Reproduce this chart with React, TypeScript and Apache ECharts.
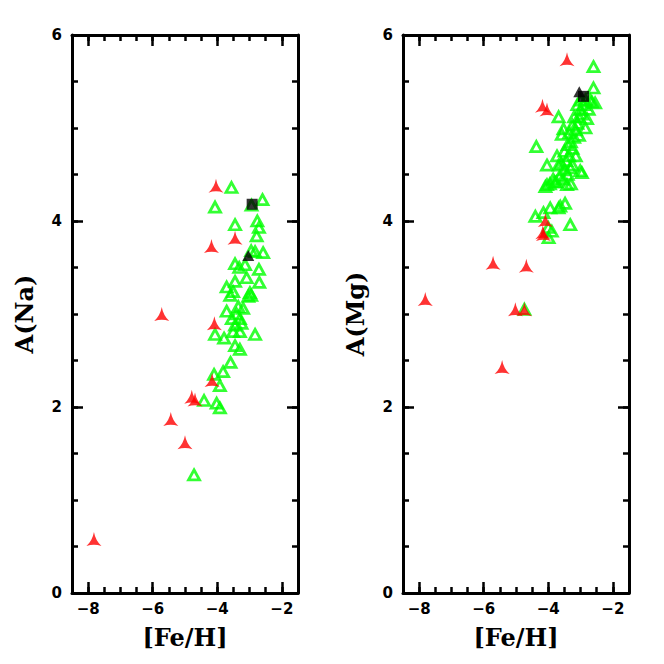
import React, { useEffect, useRef } from "react";
import * as echarts from "echarts";

// ---- data ----
const naRed: [number, number][] = [
  [-4.04, 4.38], [-3.45, 3.82], [-4.18, 3.73], [-4.09, 2.9], [-4.16, 2.29],
  [-4.79, 2.11], [-4.69, 2.08], [-5.72, 3.0], [-5.44, 1.87], [-5.0, 1.62], [-7.82, 0.58],
];
const naGreen: [number, number][] = [
  [-3.56, 4.36], [-4.07, 4.15], [-2.6, 4.23], [-2.94, 4.17], [-3.45, 3.96], [-2.76, 4.0],
  [-2.71, 3.93], [-2.78, 3.84], [-2.83, 3.67], [-2.58, 3.66], [-2.95, 3.68], [-3.45, 3.54],
  [-3.14, 3.53], [-3.32, 3.5], [-2.71, 3.48], [-3.09, 3.39], [-3.45, 3.35], [-2.7, 3.34],
  [-3.71, 3.29], [-3.51, 3.24], [-2.99, 3.23], [-3.04, 3.19], [-2.95, 3.2], [-3.6, 3.2],
  [-3.35, 3.08], [-3.71, 3.03], [-3.2, 3.06], [-3.4, 3.0], [-3.3, 2.95], [-3.55, 2.95],
  [-3.25, 2.9], [-3.45, 2.88], [-4.07, 2.78], [-3.79, 2.74], [-3.51, 2.81], [-3.3, 2.81],
  [-2.83, 2.78], [-3.45, 2.66], [-3.3, 2.62], [-3.59, 2.48], [-3.82, 2.38], [-4.1, 2.35],
  [-3.92, 2.23], [-4.41, 2.07], [-4.02, 2.04], [-3.92, 1.99], [-4.72, 1.27],
];
const naBlackTri: [number, number][] = [[-3.04, 3.63]];
const naBlackSq: [number, number][] = [[-2.92, 4.18]];

const mgRed: [number, number][] = [
  [-3.42, 5.74], [-4.18, 5.24], [-4.04, 5.2], [-4.09, 4.01], [-4.17, 3.88], [-4.15, 3.86],
  [-5.71, 3.55], [-4.68, 3.52], [-7.81, 3.16], [-5.02, 3.05], [-4.74, 3.05], [-5.43, 2.43],
];
const mgGreen: [number, number][] = [
  [-2.6, 5.66], [-2.6, 5.43], [-2.55, 5.27], [-3.68, 5.12], [-4.37, 4.8], [-3.53, 4.99],
  [-3.58, 4.93], [-4.04, 4.6], [-3.73, 4.7], [-3.68, 4.6], [-3.01, 4.54], [-3.32, 4.57],
  [-2.96, 4.52], [-4.09, 4.37], [-3.42, 4.39], [-3.3, 4.4], [-4.04, 4.39], [-3.8, 4.42],
  [-4.4, 4.05], [-3.94, 4.14], [-3.48, 4.19], [-3.63, 4.16], [-3.68, 4.14], [-4.15, 4.09],
  [-3.32, 3.96], [-3.99, 3.82], [-3.89, 3.89], [-4.0, 3.93], [-4.74, 3.05],
  [-3.95, 4.4], [-3.85, 4.45], [-3.75, 4.42], [-3.65, 4.48], [-3.55, 4.45], [-3.5, 4.55],
  [-3.4, 4.5], [-3.6, 4.62], [-3.45, 4.65], [-3.35, 4.7], [-3.5, 4.75], [-3.4, 4.82],
  [-3.3, 4.85], [-3.25, 4.78], [-3.2, 4.9], [-3.35, 4.95], [-3.15, 4.98], [-3.25, 5.03],
  [-3.1, 5.05], [-3.05, 5.12], [-3.2, 5.12], [-2.95, 5.15], [-3.0, 5.2], [-2.9, 5.25],
  [-3.1, 5.25], [-2.85, 5.3], [-2.8, 5.1], [-2.75, 5.2], [-2.85, 5.0], [-3.05, 4.92],
  [-3.15, 4.7], [-3.25, 4.6], [-2.7, 5.3], [-2.65, 5.28], [-3.0, 5.3],
];
const mgBlackTri: [number, number][] = [[-3.04, 5.39]];
const mgBlackSq: [number, number][] = [[-2.91, 5.34]];

const xMajor = [-8, -6, -4, -2];
const xMinor = [-8, -7.5, -7, -6.5, -6, -5.5, -5, -4.5, -4, -3.5, -3, -2.5, -2];
const yMajor = [0, 2, 4, 6];
const yMinor = [0.5, 1, 1.5, 2, 2.5, 3, 3.5, 4, 4.5, 5, 5.5];
const panelNames = ["A(Na)", "A(Mg)"];
const xName = "[Fe/H]";

const TRIPOD = "path://M0,-10 Q1.7,-1 8.7,5 Q0,2.2 -8.7,5 Q-1.7,-1 0,-10 Z";

function fmt(v: number) {
  return v < 0 ? "\u2212" + Math.abs(v) : String(v);
}

const labelFont = {
  fontFamily: "DejaVu Sans",
  fontWeight: "bold" as const,
  fontSize: 15,
  color: "#000",
};
const nameFont = {
  fontFamily: "DejaVu Serif",
  fontWeight: "bold" as const,
  fontSize: 24,
  color: "#000",
};
const tickStyle = { color: "#000", width: 2.5 };

function xAxes(g: number) {
  const base = { gridIndex: g, type: "value", min: -8.5, max: -1.5, splitLine: { show: false } };
  return [
    {
      ...base,
      position: "bottom",
      name: xName,
      nameLocation: "middle",
      nameGap: 32,
      nameTextStyle: nameFont,
      axisLine: { show: true, onZero: false, lineStyle: { color: "#000", width: 3 } },
      axisTick: { show: true, inside: true, length: 11, lineStyle: tickStyle, customValues: xMajor },
      axisLabel: { show: true, customValues: xMajor, formatter: fmt, margin: 8, ...labelFont },
    },
    {
      ...base,
      position: "bottom",
      axisLine: { show: false, onZero: false },
      axisTick: { show: true, inside: true, length: 6, lineStyle: tickStyle, customValues: xMinor },
      axisLabel: { show: false },
    },
    {
      ...base,
      position: "top",
      axisLine: { show: true, onZero: false, lineStyle: { color: "#000", width: 3 } },
      axisTick: { show: true, inside: true, length: 11, lineStyle: tickStyle, customValues: xMajor },
      axisLabel: { show: false },
    },
    {
      ...base,
      position: "top",
      axisLine: { show: false, onZero: false },
      axisTick: { show: true, inside: true, length: 6, lineStyle: tickStyle, customValues: xMinor },
      axisLabel: { show: false },
    },
  ];
}

function yAxes(g: number) {
  const base = { gridIndex: g, type: "value", min: 0, max: 6, splitLine: { show: false } };
  return [
    {
      ...base,
      position: "left",
      name: panelNames[g],
      nameLocation: "middle",
      nameGap: 36,
      nameTextStyle: nameFont,
      axisLine: { show: true, onZero: false, lineStyle: { color: "#000", width: 3 } },
      axisTick: { show: true, inside: true, length: 11, lineStyle: tickStyle, customValues: yMajor },
      axisLabel: { show: true, customValues: yMajor, margin: 10, ...labelFont },
    },
    {
      ...base,
      position: "left",
      axisLine: { show: false, onZero: false },
      axisTick: { show: true, inside: true, length: 6, lineStyle: tickStyle, customValues: yMinor },
      axisLabel: { show: false },
    },
    {
      ...base,
      position: "right",
      axisLine: { show: true, onZero: false, lineStyle: { color: "#000", width: 3 } },
      axisTick: { show: true, inside: true, length: 11, lineStyle: tickStyle, customValues: yMajor },
      axisLabel: { show: false },
    },
    {
      ...base,
      position: "right",
      axisLine: { show: false, onZero: false },
      axisTick: { show: true, inside: true, length: 6, lineStyle: tickStyle, customValues: yMinor },
      axisLabel: { show: false },
    },
  ];
}

function panelSeries(g: number, green: any[], red: any[], tri: any[], sq: any[]) {
  const ax = { xAxisIndex: g * 4, yAxisIndex: g * 4 };
  return [
    {
      type: "scatter", ...ax, data: green, symbol: "triangle", symbolSize: [11, 10],
      itemStyle: { color: "rgba(0,0,0,0)", borderColor: "#00ff00", borderWidth: 2.8 }, z: 2,
    },
    {
      type: "scatter", ...ax, data: red, symbol: TRIPOD, symbolSize: [15, 14],
      itemStyle: { color: "#ff0000" }, z: 3,
    },
    {
      type: "scatter", ...ax, data: tri, symbol: "triangle", symbolSize: [12, 11],
      itemStyle: { color: "#000" }, z: 4,
    },
    {
      type: "scatter", ...ax, data: sq, symbol: "rect", symbolSize: 11,
      itemStyle: { color: "#000" }, z: 4,
    },
  ];
}

export default function App() {
  const ref = useRef<HTMLDivElement>(null);
  useEffect(() => {
    if (!ref.current) return;
    const chart = echarts.init(ref.current, null, { renderer: "svg" });
    chart.setOption({
      animation: false,
      backgroundColor: "#fff",
      grid: [
        { left: 72, top: 35, width: 226, height: 558 },
        { left: 403, top: 35, width: 226, height: 558 },
      ],
      xAxis: [...xAxes(0), ...xAxes(1)],
      yAxis: [...yAxes(0), ...yAxes(1)],
      series: [
        ...panelSeries(0, naGreen, naRed, naBlackTri, naBlackSq),
        ...panelSeries(1, mgGreen, mgRed, mgBlackTri, mgBlackSq),
      ],
    });
    return () => chart.dispose();
  }, []);
  return (
    <div
      ref={ref}
      style={{ position: "absolute", left: 0, top: 0, width: 664, height: 664 }}
    />
  );
}
